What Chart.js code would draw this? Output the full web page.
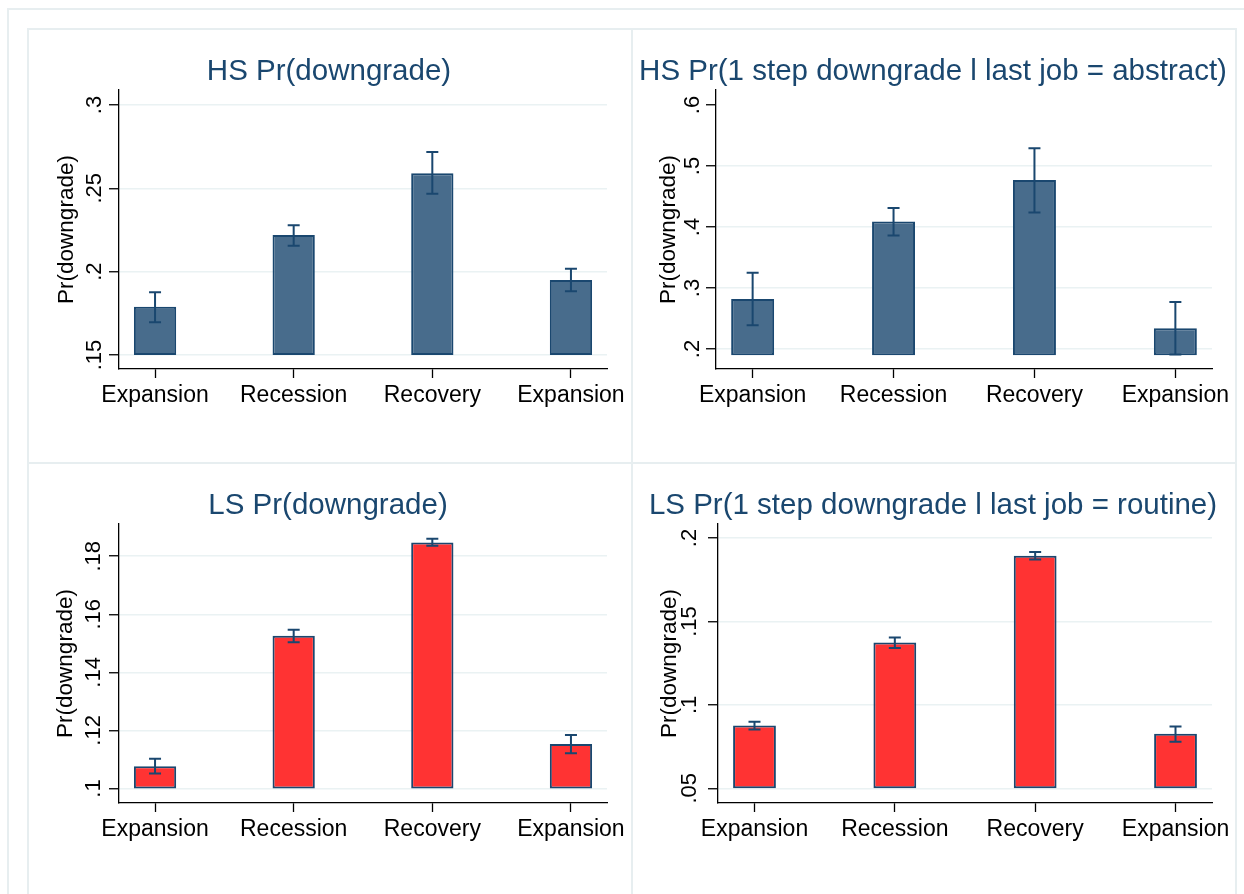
<!DOCTYPE html>
<html>
<head>
<meta charset="utf-8">
<script src="https://cdn.jsdelivr.net/npm/chart.js@4.4.1/dist/chart.umd.min.js"></script>
<style>
  html, body { margin: 0; padding: 0; background: #fff; overflow: hidden; }
  #page { position: relative; width: 1244px; height: 894px; overflow: hidden; }
  .line { position: absolute; background: #e7eef0; }
  canvas { position: absolute; }
</style>
</head>
<body>
<div id="page">
  <div class="line" style="left:7px;top:8px;width:1237px;height:1.5px"></div>
  <div class="line" style="left:7px;top:8px;width:1.5px;height:886px"></div>
  <div class="line" style="left:27px;top:28px;width:1208px;height:1.5px"></div>
  <div class="line" style="left:27px;top:28px;width:1.5px;height:866px"></div>
  <div class="line" style="left:1235px;top:28px;width:1.5px;height:866px"></div>
  <div class="line" style="left:631px;top:28px;width:1.5px;height:866px"></div>
  <div class="line" style="left:27px;top:462px;width:1208px;height:1.5px"></div>
  <canvas id="hsDown" width="603" height="434" style="left:27px;top:28px"></canvas>
  <canvas id="hsAbstract" width="621" height="434" style="left:631px;top:28px"></canvas>
  <canvas id="lsDown" width="603" height="432" style="left:27px;top:462px"></canvas>
  <canvas id="lsRoutine" width="621" height="432" style="left:631px;top:462px"></canvas>
</div>
<script>
// data ........................................................................
const periods = ['Expansion', 'Recession', 'Recovery', 'Expansion'];

// HS Pr(downgrade)
const hsDownMean = [0.179, 0.222, 0.259, 0.195];
const hsDownLo   = [0.1696, 0.2156, 0.2468, 0.1882];
const hsDownHi   = [0.1876, 0.2278, 0.2718, 0.2018];
const hsDownTicks = [0.15, 0.2, 0.25, 0.3];
const hsDownTickLabels = ['.15', '.2', '.25', '.3'];

// HS Pr(1 step downgrade | last job = abstract)
const hsAbsMean = [0.282, 0.409, 0.477, 0.234];
const hsAbsLo   = [0.239, 0.386, 0.424, 0.191];
const hsAbsHi   = [0.325, 0.431, 0.529, 0.277];
const hsAbsTicks = [0.2, 0.3, 0.4, 0.5, 0.6];
const hsAbsTickLabels = ['.2', '.3', '.4', '.5', '.6'];

// LS Pr(downgrade)
const lsDownMean = [0.1077, 0.1526, 0.1847, 0.1153];
const lsDownLo   = [0.1052, 0.1504, 0.1836, 0.1121];
const lsDownHi   = [0.1102, 0.1547, 0.1860, 0.1184];
const lsDownTicks = [0.1, 0.12, 0.14, 0.16, 0.18];
const lsDownTickLabels = ['.1', '.12', '.14', '.16', '.18'];

// LS Pr(1 step downgrade | last job = routine)
const lsRouMean = [0.0877, 0.1374, 0.1894, 0.0827];
const lsRouLo   = [0.0853, 0.1341, 0.1872, 0.0779];
const lsRouHi   = [0.0899, 0.1404, 0.1916, 0.0871];
const lsRouTicks = [0.05, 0.1, 0.15, 0.2];
const lsRouTickLabels = ['.05', '.1', '.15', '.2'];

// look ........................................................................
const NAVY = '#1a476f';
const BLUE_FILL = '#486c8c';
const RED_FILL = '#ff3333';
const GRID = '#eaf2f3';
const AXIS = '#000';

Chart.defaults.font.family = '"Liberation Sans", Arial, Helvetica, sans-serif';
Chart.defaults.animation = false;

// draws the confidence interval whiskers through the chart's own scales
function errorBarPlugin(lo, hi){
  return {
    id: 'errorBars',
    afterDatasetsDraw(chart){
      const {ctx, scales: {x, y}} = chart;
      const cap = 12;
      ctx.save();
      ctx.strokeStyle = NAVY;
      ctx.lineWidth = 2;
      for (let i = 0; i < lo.length; i++){
        const px = x.getPixelForValue(i + 1);
        const yLo = y.getPixelForValue(lo[i]);
        const yHi = y.getPixelForValue(hi[i]);
        ctx.beginPath();
        ctx.moveTo(px, yLo); ctx.lineTo(px, yHi);
        ctx.moveTo(px - cap / 2, yLo); ctx.lineTo(px + cap / 2, yLo);
        ctx.moveTo(px - cap / 2, yHi); ctx.lineTo(px + cap / 2, yHi);
        ctx.stroke();
      }
      ctx.restore();
    }
  };
}

function panel(id, p){
  const canvas = document.getElementById(id);
  const lh = p.titleSize * 1.2;
  const headTop = p.headMid - lh / 2;
  const scales = {
    x: {
      type: 'linear',
      min: 0.74,
      max: 4.26,
      offset: false,
      afterBuildTicks: ax => { ax.ticks = periods.map((c, i) => ({ value: i + 1 })); },
      afterFit: ax => { ax.height = ax.chart.height - 341; ax.paddingLeft = 0; ax.paddingRight = 0; },
      ticks: {
        autoSkip: false, maxRotation: 0, padding: 4, color: AXIS,
        font: { size: 23 },
        callback: (v, i) => periods[i]
      },
      grid: { offset: false, drawOnChartArea: false, tickLength: 9, tickColor: AXIS, tickWidth: 1.3 },
      border: { color: AXIS, width: 1.3 }
    },
    y: {
      min: p.yMin,
      max: p.yMax,
      afterBuildTicks: ax => { ax.ticks = p.ticks.map(v => ({ value: v })); },
      afterFit: ax => { ax.width = p.axisW; ax.paddingTop = 0; ax.paddingBottom = 0; },
      ticks: {
        autoSkip: false, minRotation: 90, maxRotation: 90, crossAlign: 'center',
        padding: p.tickPad, color: AXIS,
        font: { size: 22 },
        callback: (v, i) => p.tickLabels[i]
      },
      grid: {
        color: c => (p.hideTopGrid && c.tick && c.tick.value === p.ticks[p.ticks.length - 1]) ? 'rgba(0,0,0,0)' : GRID,
        lineWidth: 1.5,
        tickLength: 10,
        tickColor: AXIS,
        tickWidth: 1.3
      },
      border: { color: AXIS, width: 1.3 },
      title: {
        display: true,
        text: 'Pr(downgrade)',
        color: AXIS,
        font: { size: 22.5 },
        padding: { top: p.titlePad, bottom: 0 }
      }
    }
  };
  // empty right-hand box: keeps the plot narrower than the centred heading
  if (p.gapR){
    scales.gap = {
      position: 'right', display: true,
      grid: { display: false }, ticks: { display: false }, border: { display: false },
      afterFit: ax => { ax.width = p.gapR; ax.paddingTop = 0; ax.paddingBottom = 0; }
    };
  }
  return new Chart(canvas, {
    type: 'bar',
    data: {
      datasets: [{
        data: p.mean.map((v, i) => ({ x: i + 1, y: [p.base, v] })),
        backgroundColor: p.fill,
        borderColor: NAVY,
        borderWidth: 2,
        borderSkipped: false,
        barPercentage: 0.305,
        categoryPercentage: 1
      }]
    },
    options: {
      responsive: false,
      devicePixelRatio: 1,
      layout: { padding: { left: p.padL, right: 23, top: 0, bottom: 0 } },
      plugins: {
        legend: { display: false },
        tooltip: { enabled: false },
        title: {
          display: true,
          text: p.title,
          color: NAVY,
          font: { size: p.titleSize, weight: 'normal' },
          padding: { top: headTop, bottom: 62 - lh - headTop }
        }
      },
      scales
    },
    plugins: [errorBarPlugin(p.lo, p.hi)]
  });
}

panel('hsDown', {
  title: 'HS Pr(downgrade)', titleSize: 29.5, headMid: 44,
  mean: hsDownMean, lo: hsDownLo, hi: hsDownHi, base: 0.15,
  ticks: hsDownTicks, tickLabels: hsDownTickLabels,
  yMin: 0.1416, yMax: 0.309,
  fill: BLUE_FILL, padL: 24, axisW: 68, tickPad: -1.5, titlePad: 2.5
});

panel('hsAbstract', {
  title: 'HS Pr(1 step downgrade l last job = abstract)', titleSize: 29.5, headMid: 44,
  mean: hsAbsMean, lo: hsAbsLo, hi: hsAbsHi, base: 0.19,
  ticks: hsAbsTicks, tickLabels: hsAbsTickLabels,
  yMin: 0.1673, yMax: 0.6246, hideTopGrid: true,
  fill: BLUE_FILL, padL: 6, gapR: 17, axisW: 79, tickPad: 4, titlePad: 18.3
});

panel('lsDown', {
  title: 'LS Pr(downgrade)', titleSize: 29.5, headMid: 43.5,
  mean: lsDownMean, lo: lsDownLo, hi: lsDownHi, base: 0.1,
  ticks: lsDownTicks, tickLabels: lsDownTickLabels,
  yMin: 0.095, yMax: 0.1911,
  fill: RED_FILL, padL: 22, axisW: 70, tickPad: -0.5, titlePad: 3.3
});

panel('lsRoutine', {
  title: 'LS Pr(1 step downgrade l last job = routine)', titleSize: 29.5, headMid: 43.5,
  mean: lsRouMean, lo: lsRouLo, hi: lsRouHi, base: 0.05,
  ticks: lsRouTicks, tickLabels: lsRouTickLabels,
  yMin: 0.0412, yMax: 0.2084,
  fill: RED_FILL, padL: 6, gapR: 17, axisW: 81, tickPad: 2.5, titlePad: 19.3
});
</script>
</body>
</html>
